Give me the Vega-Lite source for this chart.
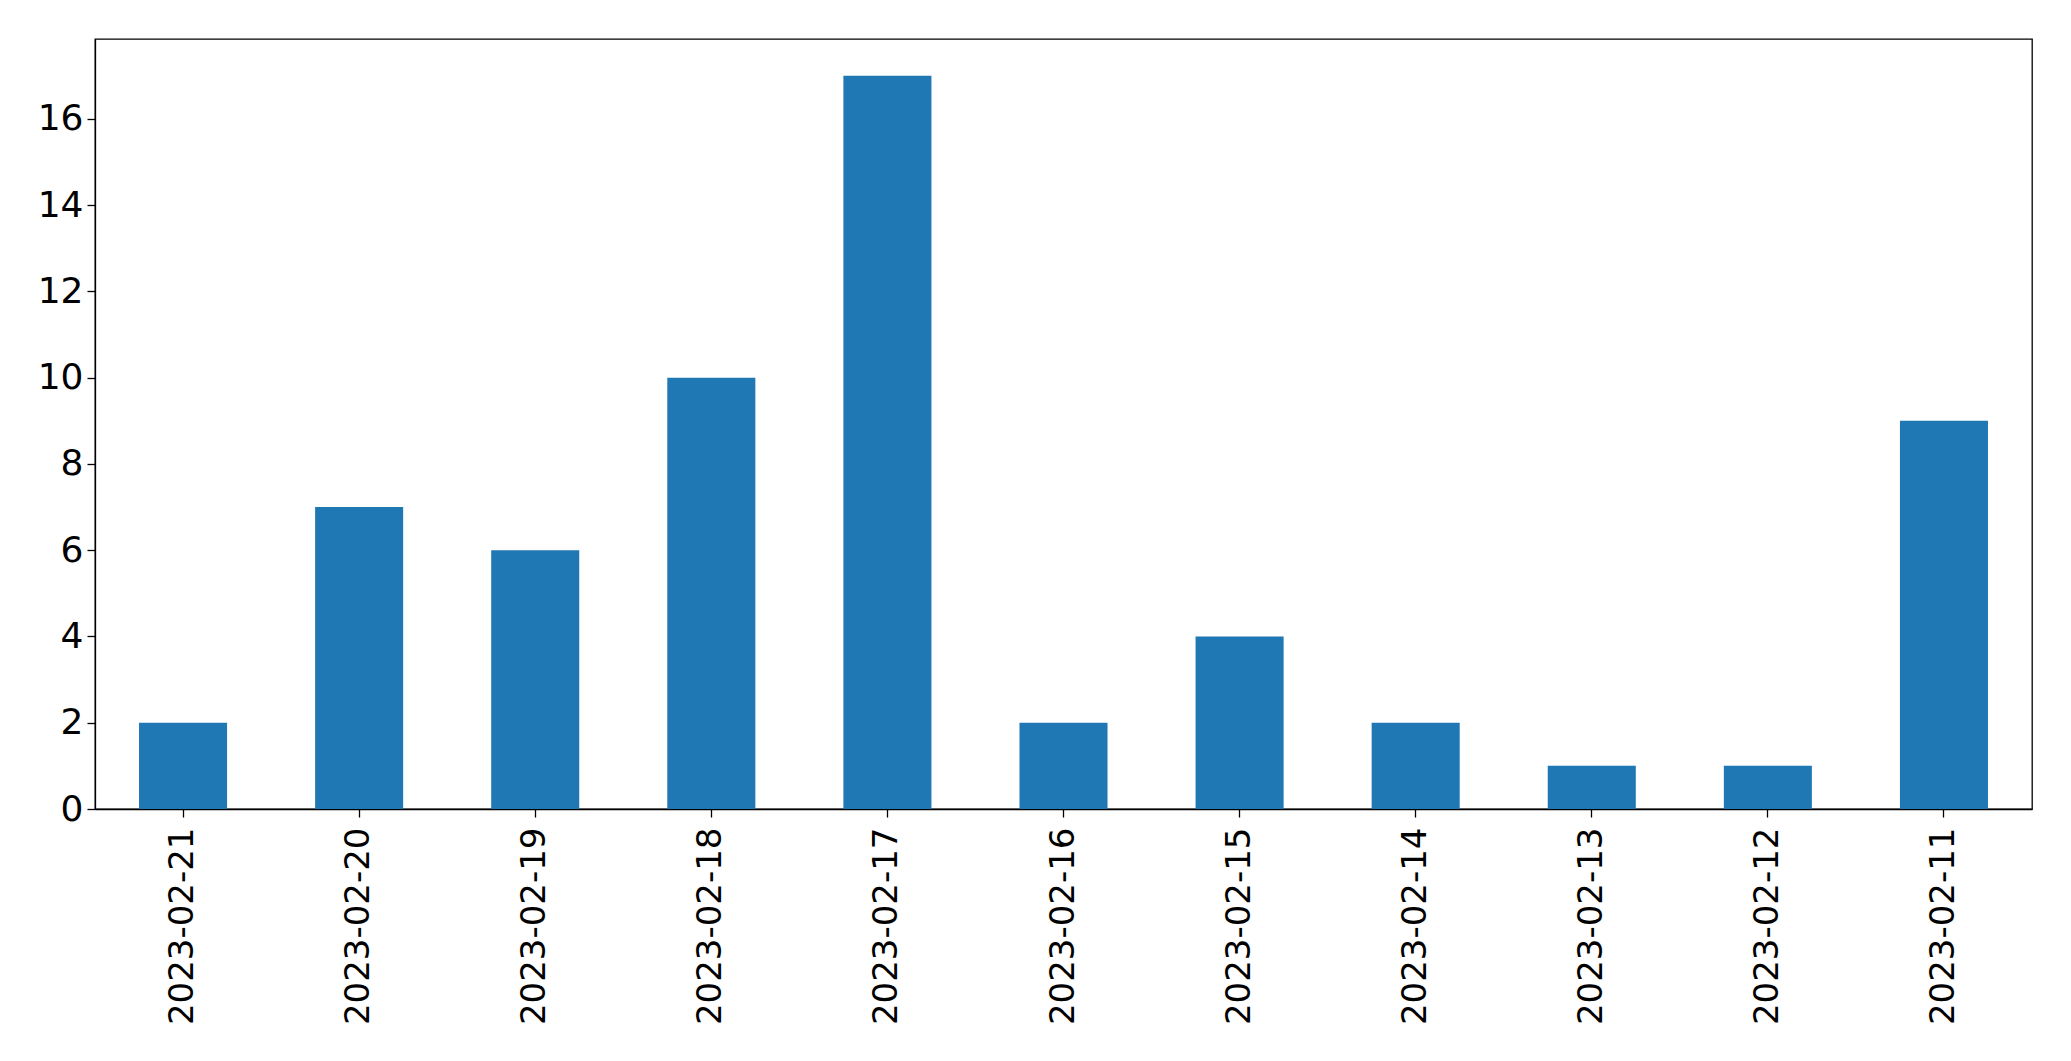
{
  "$schema": "https://vega.github.io/schema/vega-lite/v6.json",
  "width": 1937,
  "height": 770,
  "autosize": {"type": "none"},
  "padding": {"left": 95, "top": 39, "right": 39, "bottom": 252},
  "background": "white",
  "config": {
    "view": {"stroke": "black", "strokeWidth": 1.3},
    "font": "DejaVu Sans",
    "axis": {"grid": false, "domainColor": "black", "tickColor": "black", "labelColor": "black", "labelFont": "DejaVu Sans", "labelFontSize": 35, "labelLimit": 0, "domainWidth": 1.3, "tickWidth": 1.3, "tickSize": 8}
  },
  "data": {
    "values": [
      {"date": "2023-02-21", "count": 2},
      {"date": "2023-02-20", "count": 7},
      {"date": "2023-02-19", "count": 6},
      {"date": "2023-02-18", "count": 10},
      {"date": "2023-02-17", "count": 17},
      {"date": "2023-02-16", "count": 2},
      {"date": "2023-02-15", "count": 4},
      {"date": "2023-02-14", "count": 2},
      {"date": "2023-02-13", "count": 1},
      {"date": "2023-02-12", "count": 1},
      {"date": "2023-02-11", "count": 9}
    ]
  },
  "mark": {"type": "bar", "color": "#1f77b4"},
  "encoding": {
    "x": {
      "field": "date", "type": "nominal", "sort": null,
      "scale": {"paddingInner": 0.5, "paddingOuter": 0.25},
      "axis": {"title": null, "labelAngle": -90, "labelPadding": 10, "labelFontSize": 34, "labelLimit": 0}
    },
    "y": {
      "field": "count", "type": "quantitative",
      "scale": {"domain": [0, 17.85], "nice": false, "zero": true},
      "axis": {"title": null, "values": [0, 2, 4, 6, 8, 10, 12, 14, 16], "labelPadding": 4, "labelFontSize": 36}
    }
  }
}
